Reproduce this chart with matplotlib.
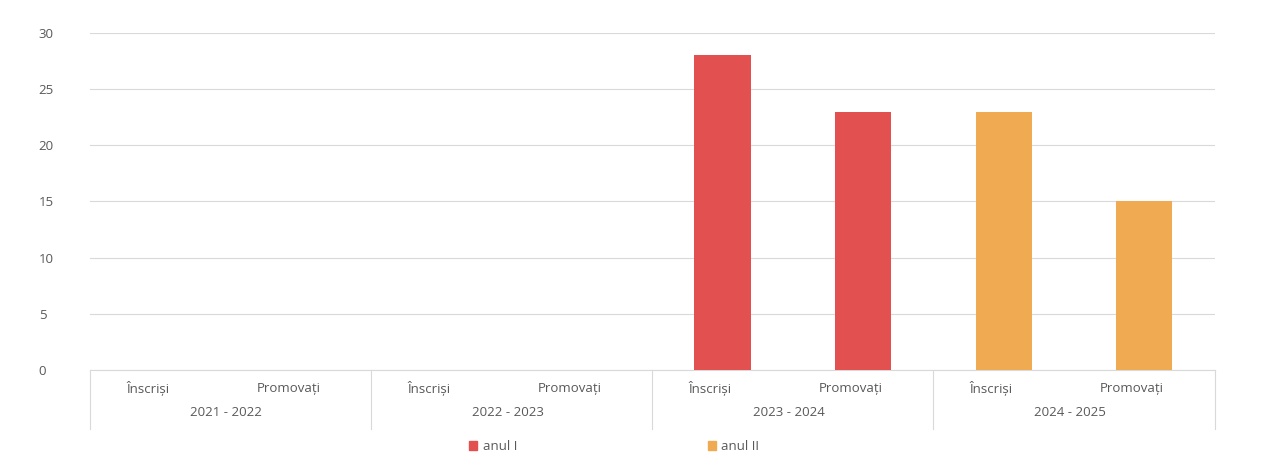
import numpy as np
import matplotlib.pyplot as plt
from matplotlib.transforms import blended_transform_factory
from matplotlib.patches import Patch

# data
years = ["2021 - 2022", "2022 - 2023", "2023 - 2024", "2024 - 2025"]
stages = ["Înscriși", "Promovați"]
anul_I = [np.nan, np.nan, np.nan, np.nan, 28, 23, np.nan, np.nan]
anul_II = [np.nan, np.nan, np.nan, np.nan, np.nan, np.nan, 23, 15]
series_names = ["anul I", "anul II"]
colors = ["#e25050", "#f0ab52"]

plt.rcParams['font.family'] = ['Open Sans', 'DejaVu Sans']
text_color = "#595959"

fig = plt.figure(figsize=(12.72, 4.63), dpi=100)
ax = fig.add_axes([0.0708, 0.2009, 0.884, 0.7278])

x = np.arange(len(years) * len(stages))
ax.bar(x, anul_I, width=0.4, color=colors[0], zorder=3)
ax.bar(x, anul_II, width=0.4, color=colors[1], zorder=3)

ax.set_xlim(-0.5, len(x) - 0.5)
ax.set_ylim(0, 30)
ax.set_yticks(range(0, 31, 5))
ax.tick_params(axis='y', length=0, pad=37, labelsize=9.5, labelcolor=text_color)
for lbl in ax.get_yticklabels():
    lbl.set_horizontalalignment('left')
ax.set_xticks([])
ax.grid(axis='y', color="#d9d9d9", linewidth=0.8, zorder=0)
for s in ["top", "right", "left"]:
    ax.spines[s].set_visible(False)
ax.spines["bottom"].set_color("#d9d9d9")

# two-level category labels
trans = blended_transform_factory(ax.transData, ax.transAxes)
for i, xi in enumerate(x):
    ax.text(xi - 0.09, -0.055, stages[i % 2], transform=trans, ha='center', va='center',
            fontsize=9.5, color=text_color)
for g, yr in enumerate(years):
    ax.text(2 * g + 0.47, -0.125, yr, transform=trans, ha='center', va='center',
            fontsize=9.5, color=text_color)
for b in np.arange(-0.5, len(x), 2):
    ax.plot([b, b], [0, -0.175], transform=trans, color="#d9d9d9",
            linewidth=0.8, clip_on=False)

handles = [Patch(color=c, label=n) for c, n in zip(colors, series_names)]
fig.legend(handles=handles, loc='center', bbox_to_anchor=(0.483, 0.035), ncol=2,
           frameon=False, fontsize=9.5, labelcolor=text_color, handlelength=0.6,
           handleheight=0.6, columnspacing=14.5, handletextpad=0.4)

fig.savefig("out.png", dpi=100)
